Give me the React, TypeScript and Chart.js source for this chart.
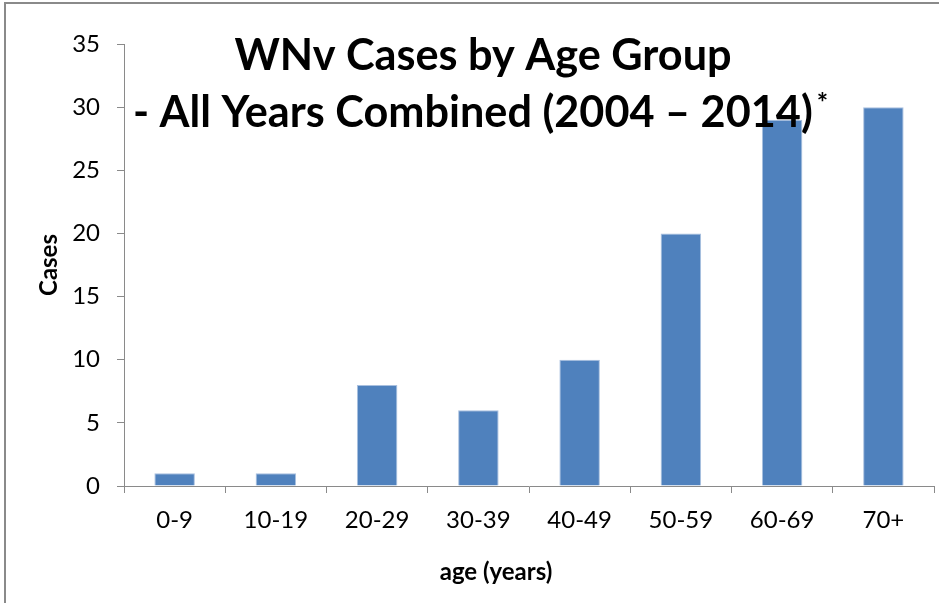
import React, { useEffect, useRef } from "react";
import { Chart, registerables } from "chart.js";

Chart.register(...registerables);

const categories = ["0-9", "10-19", "20-29", "30-39", "40-49", "50-59", "60-69", "70+"];
const cases = [1, 1, 8, 6, 10, 20, 29, 30];
const titleLine1 = "WNv Cases by Age Group";
const titleLine2 = "- All Years Combined (2004 \u2013 2014)";
const titleMark = "*";
const yAxisTitle = "Cases";
const xAxisTitle = "age (years)";

const FONT = "Lato, 'Open Sans', 'DejaVu Sans', sans-serif";

const framePlugin = {
  id: "frame",
  beforeDraw(chart: any) {
    const ctx = chart.ctx;
    ctx.save();
    ctx.fillStyle = "#ffffff";
    ctx.fillRect(0, 0, chart.width, chart.height);
    ctx.strokeStyle = "#8a8a8a";
    ctx.lineWidth = 2;
    ctx.strokeRect(5, 3, chart.width + 20, chart.height + 20);
    ctx.restore();
  },
};

function fitFont(ctx: CanvasRenderingContext2D, text: string, width: number, weight: string) {
  let size = 40;
  ctx.font = `${weight} ${size}px ${FONT}`;
  const w = ctx.measureText(text).width;
  size = (size * width) / w;
  return size;
}

const titlePlugin = {
  id: "overlayTitle",
  afterDatasetsDraw(chart: any) {
    const ctx: CanvasRenderingContext2D = chart.ctx;
    ctx.save();
    ctx.fillStyle = "#000000";
    ctx.textBaseline = "alphabetic";
    const size = fitFont(ctx, titleLine2, 680, "bold");
    ctx.font = `bold ${size}px ${FONT}`;
    ctx.textAlign = "center";
    ctx.fillText(titleLine1, 483, 70);
    ctx.textAlign = "left";
    ctx.fillText(titleLine2, 133, 127);
    const w2 = ctx.measureText(titleLine2).width;
    ctx.font = `bold ${size * 0.62}px ${FONT}`;
    ctx.fillText(titleMark, 133 + w2 + 4, 112);
    // x-axis title
    ctx.font = `bold 24px ${FONT}`;
    ctx.textAlign = "center";
    ctx.textBaseline = "middle";
    ctx.fillText(xAxisTitle, 496, 572);
    ctx.restore();
  },
};

export default function App() {
  const ref = useRef<HTMLCanvasElement | null>(null);

  useEffect(() => {
    if (!ref.current) return;
    const chart = new Chart(ref.current, {
      type: "bar",
      data: {
        labels: categories,
        datasets: [
          {
            label: "Cases",
            data: cases,
            backgroundColor: "#4F81BD",
            borderColor: "#A9C0DF",
            borderWidth: { left: 1, right: 1, top: 1, bottom: 0 },
            barPercentage: 0.4,
            categoryPercentage: 1,
          },
        ],
      },
      options: {
        responsive: false,
        animation: false,
        devicePixelRatio: 1,
        layout: { padding: { top: 44, right: 5, left: 0, bottom: 0 } },
        plugins: {
          legend: { display: false },
          title: { display: false },
          tooltip: { enabled: false },
        },
        scales: {
          x: {
            offset: true,
            afterFit(scale: any) {
              scale.height = 117;
            },
            grid: {
              display: true,
              offset: true,
              drawOnChartArea: false,
              drawTicks: true,
              tickLength: 7,
              color: "#8a8a8a",
            },
            border: { display: true, color: "#8a8a8a", width: 1 },
            ticks: {
              color: "#000000",
              font: { family: FONT, size: 24 },
              padding: 13,
              maxRotation: 0,
            },
          },
          y: {
            min: 0,
            max: 35,
            afterFit(scale: any) {
              scale.width = 124;
            },
            grid: {
              display: true,
              drawOnChartArea: false,
              drawTicks: true,
              tickLength: 7,
              color: "#8a8a8a",
            },
            border: { display: true, color: "#8a8a8a", width: 1 },
            ticks: {
              stepSize: 5,
              color: "#000000",
              font: { family: FONT, size: 24 },
              padding: 17,
            },
            title: {
              display: true,
              text: yAxisTitle,
              color: "#000000",
              font: { family: FONT, size: 24, weight: "bold" },
              padding: { top: 35, bottom: 0 },
            },
          },
        },
      },
      plugins: [framePlugin, titlePlugin],
    });
    return () => chart.destroy();
  }, []);

  return (
    <div style={{ position: "fixed", left: 0, top: 0, width: 939, height: 603 }}>
      <canvas ref={ref} width={939} height={603} style={{ display: "block", width: 939, height: 603 }} />
    </div>
  );
}
